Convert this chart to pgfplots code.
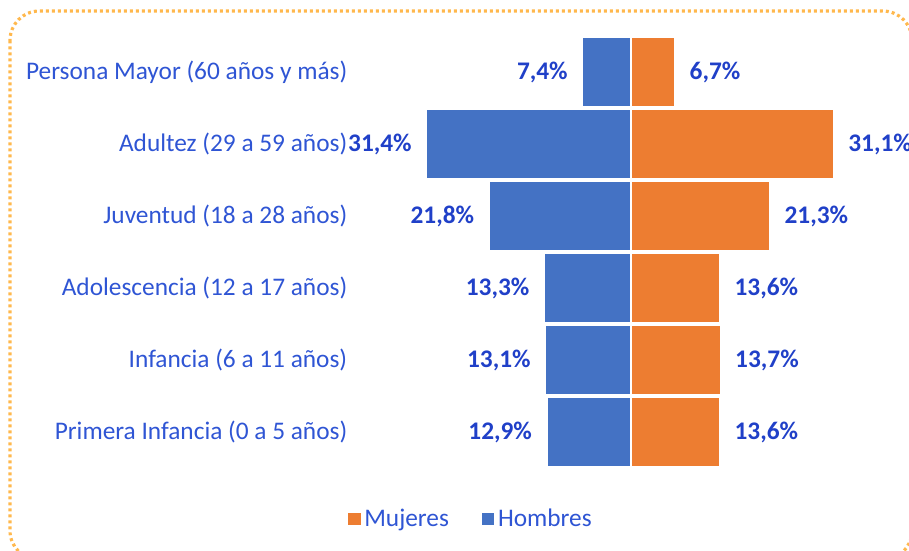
\documentclass[border=0pt]{standalone}
\usepackage{pgfplots}
\pgfplotsset{compat=1.18}
\usepackage{fontspec}
\setmainfont{Carlito}
\definecolor{hblue}{HTML}{4472C4}
\definecolor{morange}{HTML}{ED7D31}
\definecolor{txtblue}{HTML}{2F55D4}
\definecolor{valblue}{HTML}{2040C8}
\definecolor{border}{HTML}{FFB84D}
\begin{document}
\begin{tikzpicture}[x=0.75pt,y=-0.75pt]
\useasboundingbox (0,0) rectangle (909,550);
\draw[border, line width=2.4pt, dash pattern=on 2.2pt off 2.3pt, rounded corners=22pt]
  (10,11) rectangle (912,560);
\begin{axis}[
  at={(302.625pt,-27pt)}, anchor=north west,
  scale only axis, width=341.25pt, height=324pt,
  xbar, bar width=0.965, bar shift=0pt,
  xmin=-35, xmax=35, ymin=-0.5, ymax=5.5,
  axis line style={draw=none},
  major tick length=0pt,
  xtick=\empty,
  ytick={0,...,5},
  yticklabels={Primera Infancia (0 a 5 años),Infancia (6 a 11 años),Adolescencia (12 a 17 años),Juventud (18 a 28 años),Adultez (29 a 59 años),Persona Mayor (60 años y más)},
  yticklabel style={font=\fontsize{19pt}{22pt}\selectfont, text=txtblue, inner sep=0pt, anchor=east, xshift=-42pt},
  point meta=explicit symbolic,
  nodes near coords,
  every node near coord/.append style={font=\fontsize{19pt}{22pt}\selectfont\bfseries, text=valblue, inner sep=0pt},
  legend style={at={(0.148,-0.118)}, anchor=center, draw=none, legend columns=2,
    font=\fontsize{19pt}{22pt}\selectfont, text=txtblue,
    /tikz/every even column/.append style={column sep=22pt}},
  legend image code/.code={\fill[#1] (0pt,-5pt) rectangle (10pt,5pt);},
]
\addplot[fill=morange, draw=white, line width=0.8pt,
  every node near coord/.append style={anchor=west, xshift=11pt}]
  table[meta=l] {
x y l
13.6 0 13,6\%
13.7 1 13,7\%
13.6 2 13,6\%
21.3 3 21,3\%
31.1 4 31,1\%
6.7 5 6,7\%
};
\addlegendentry{Mujeres}
\addplot[fill=hblue, draw=white, line width=0.8pt,
  every node near coord/.append style={anchor=east, xshift=-11pt}]
  table[meta=l] {
x y l
-12.9 0 12,9\%
-13.1 1 13,1\%
-13.3 2 13,3\%
-21.8 3 21,8\%
-31.4 4 31,4\%
-7.4 5 7,4\%
};
\addlegendentry{Hombres}
\end{axis}
\end{tikzpicture}
\end{document}
